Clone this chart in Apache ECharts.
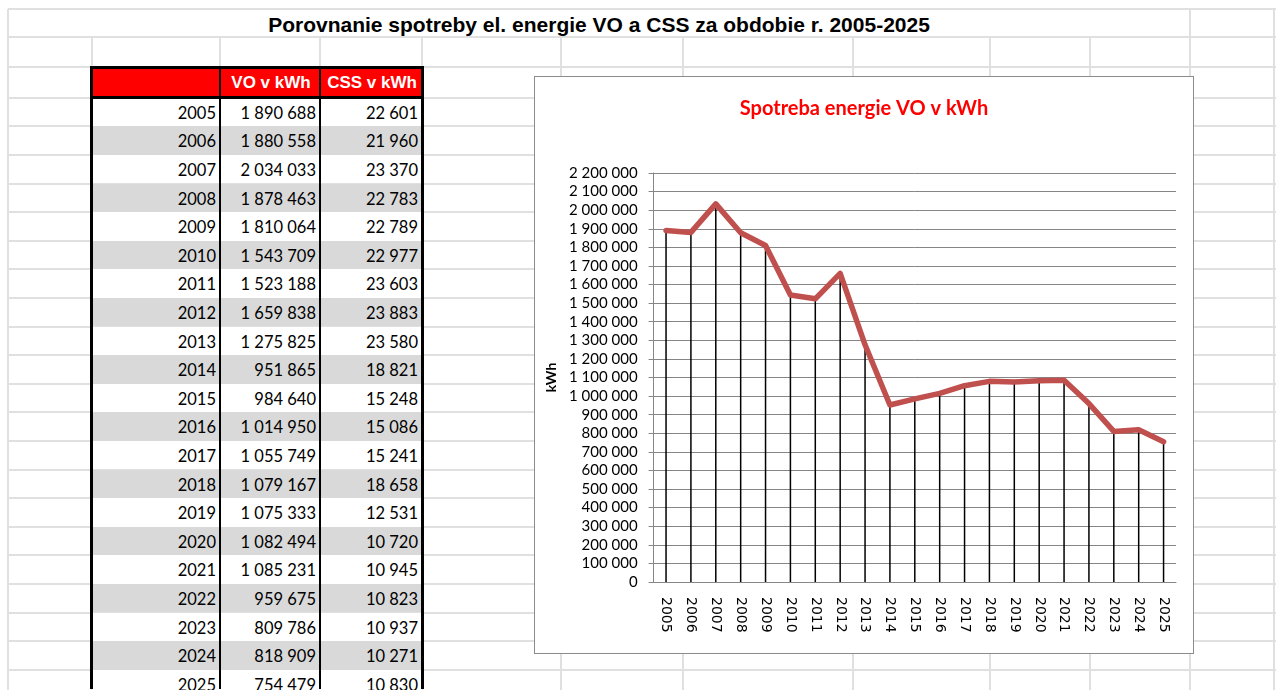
<!DOCTYPE html>
<html><head><meta charset="utf-8">
<script src="https://cdn.jsdelivr.net/npm/echarts@6/dist/echarts.min.js"></script>
<style>
html,body{margin:0;padding:0;background:#fff;width:1276px;height:690px;overflow:hidden;}
#sheet{position:absolute;left:0;top:0;width:1276px;height:690px;}
.h{position:absolute;height:2px;background:#e0e0e0;}
.v{position:absolute;width:2px;background:#e0e0e0;}
.blk{position:absolute;background:#000;}
.cell{position:absolute;box-sizing:border-box;white-space:nowrap;}
#title{position:absolute;left:8px;width:1182px;top:9px;height:28px;line-height:32px;text-align:center;font-family:"Liberation Sans",Arial,sans-serif;font-weight:bold;font-size:21px;color:#000;}
#chartBox{position:absolute;left:534px;top:76px;width:658px;height:576px;border:1px solid #8c8c8c;background:#fff;}
#chart{width:658px;height:576px;}
</style></head>
<body>
<div id="sheet"></div>
<div id="title">Porovnanie spotreby el. energie VO a CSS za obdobie r. 2005-2025</div>
<div id="chartBox"><div id="chart"></div></div>
<script>
// ---- data ----
const years = [2005,2006,2007,2008,2009,2010,2011,2012,2013,2014,2015,2016,2017,2018,2019,2020,2021,2022,2023,2024,2025];
const voKWh = [1890688,1880558,2034033,1878463,1810064,1543709,1523188,1659838,1275825,951865,984640,1014950,1055749,1079167,1075333,1082494,1085231,959675,809786,818909,754479];
const cssKWh = [22601,21960,23370,22783,22789,22977,23603,23883,23580,18821,15248,15086,15241,18658,12531,10720,10945,10823,10937,10271,10830];
const headers = ['', 'VO v kWh', 'CSS v kWh'];
const chartTitle = 'Spotreba energie VO v kWh';
const yName = 'kWh';

const fmt = n => String(n).replace(/\B(?=(\d{3})+(?!\d))/g, ' ');

// ---- sheet layout ----
const sheet = document.getElementById('sheet');
const colX = [8,92,220,320,422,561,683,853,990,1090,1190,1274];
const rowH = 28.6, bodyTop = 97.7;
const rowY = [9,37,67];
for (let k = 0; k <= 22; k++) rowY.push(bodyTop + k * rowH);
function add(cls, css, txt) {
  const d = document.createElement('div'); d.className = cls;
  Object.assign(d.style, css); if (txt !== undefined) d.textContent = txt;
  sheet.appendChild(d); return d;
}
rowY.forEach(y => add('h', {left:'8px', width:'1268px', top:(y-1)+'px'}));
colX.forEach(x => {
  const top = (x === 8 || x === 1190 || x === 1274) ? 9 : 37;
  add('v', {left:(x-1)+'px', top:top+'px', height:(690-top)+'px'});
});

// ---- table ----
const tL = 92, tR = 422, c1 = 220, c2 = 320, hTop = 67;
add('cell', {left:tL+'px', top:hTop+'px', width:(tR-tL)+'px', height:(bodyTop-hTop)+'px', background:'#ff0000'});
[[c1,c2],[c2,tR]].forEach((r,i) => {
  add('cell', {left:(r[0]+1)+'px', top:(hTop+1)+'px', width:(r[1]-r[0])+'px', height:(bodyTop-hTop)+'px',
    fontFamily:'"Liberation Sans", Arial, sans-serif', fontWeight:'bold', fontSize:'17px',
    lineHeight:(bodyTop-hTop)+'px', textAlign:'center', color:'#fff'}, headers[i+1]);
});
years.forEach((yr, i) => {
  const top = bodyTop + i * rowH;
  add('cell', {left:tL+'px', top:top+'px', width:(tR-tL)+'px', height:rowH+'px', background:(i % 2 ? '#d9d9d9' : '#fff')});
  const vals = [yr, fmt(voKWh[i]), fmt(cssKWh[i])];
  const bounds = [[tL,c1],[c1,c2],[c2,tR]];
  bounds.forEach((b,j) => {
    add('cell', {left:b[0]+'px', top:(top+1)+'px', width:(b[1]-b[0]-4)+'px', height:rowH+'px',
      fontFamily:'Lato, sans-serif', fontSize:'16.5px',
      lineHeight:rowH+'px', textAlign:'right', color:'#000'}, String(vals[j]));
  });
});
// black borders
add('blk', {left:(tL-2)+'px', top:(hTop-1)+'px', width:'3px', height:(690-hTop)+'px'});
add('blk', {left:(tR-1)+'px', top:(hTop-1)+'px', width:'3px', height:(690-hTop)+'px'});
add('blk', {left:(tL-2)+'px', top:(hTop-1)+'px', width:(tR-tL+3)+'px', height:'3px'});
add('blk', {left:(tL-2)+'px', top:(bodyTop-2)+'px', width:(tR-tL+3)+'px', height:'3px'});
add('blk', {left:(c1-1)+'px', top:(hTop-1)+'px', width:'2px', height:(690-hTop)+'px'});
add('blk', {left:(c2-1)+'px', top:(hTop-1)+'px', width:'2px', height:(690-hTop)+'px'});

// ---- chart ----
const chart = echarts.init(document.getElementById('chart'), null, {renderer:'canvas'});
chart.setOption({
  animation:false,
  backgroundColor:'#fff',
  title:{text:chartTitle, left:'center', top:17,
    textStyle:{color:'#ff0000', fontFamily:'Lato', fontWeight:'bold', fontSize:20}},
  grid:{left:118.6, right:17, top:96, bottom:71, containLabel:false},
  xAxis:{type:'category', data:years.map(String), boundaryGap:true,
    axisLine:{lineStyle:{color:'#868686', width:1}}, axisTick:{show:false},
    axisLabel:{rotate:-90, margin:15, color:'#000', fontFamily:'DejaVu Sans', fontSize:14, interval:0},
    splitLine:{show:false}},
  yAxis:{type:'value', min:0, max:2200000, interval:100000,
    name:yName, nameLocation:'middle', nameGap:95, nameRotate:90,
    nameTextStyle:{fontWeight:'bold', fontFamily:'Lato', fontSize:14, color:'#000'},
    axisLine:{show:true, lineStyle:{color:'#868686'}},
    axisTick:{show:true, length:5, lineStyle:{color:'#868686'}},
    axisLabel:{margin:16, color:'#000', fontFamily:'Lato', fontSize:15, formatter:v => fmt(v)},
    splitLine:{lineStyle:{color:'#868686', width:1}}},
  series:[
    {type:'bar', data:voKWh, barWidth:1.5, itemStyle:{color:'#000'}, silent:true, z:1},
    {type:'line', data:voKWh, symbol:'none', lineStyle:{color:'#c0504d', width:5.5, join:'round', cap:'round'}, z:3}
  ]
});
</script>
</body></html>
